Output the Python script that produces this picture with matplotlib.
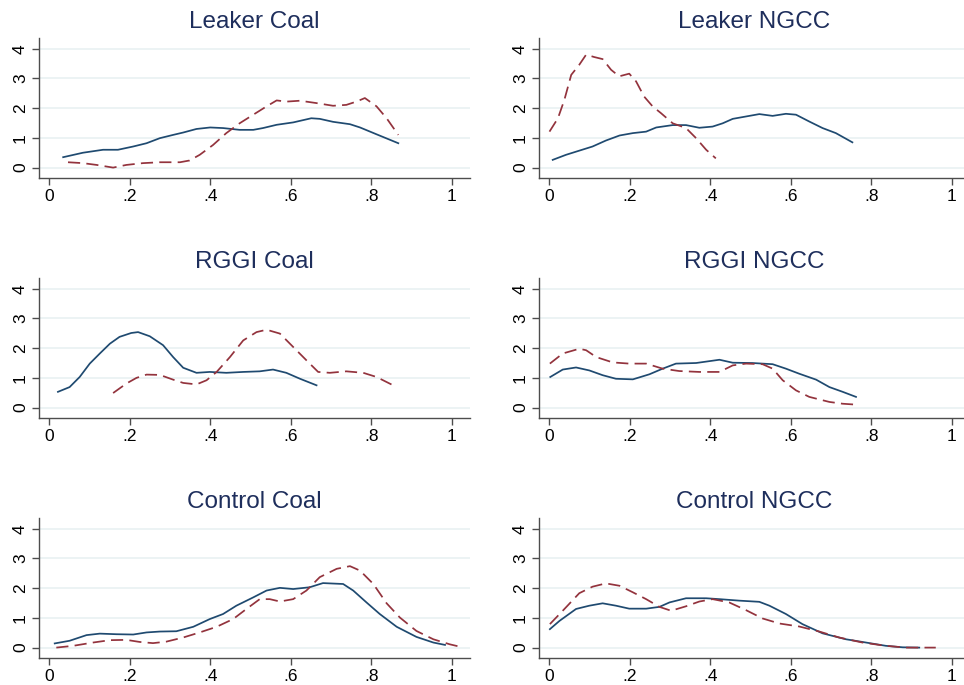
import matplotlib
matplotlib.use("Agg")
import matplotlib.pyplot as plt

plt.rcParams['font.family'] = ['Liberation Sans', 'DejaVu Sans']

titles = ["Leaker Coal", "Leaker NGCC", "RGGI Coal", "RGGI NGCC", "Control Coal", "Control NGCC"]
xticks = [0, 0.2, 0.4, 0.6, 0.8, 1.0]
xticklabels = ["0", ".2", ".4", ".6", ".8", "1"]
yticks = [0, 1, 2, 3, 4]

# Solid (blue) series
leaker_coal_solid_x = [0.035, 0.084, 0.134, 0.171, 0.209, 0.242, 0.275, 0.308, 0.333, 0.366, 0.4, 0.432, 0.473, 0.507, 0.531, 0.565, 0.606, 0.651, 0.672, 0.705, 0.747, 0.772, 0.813, 0.867]
leaker_coal_solid_y = [0.35, 0.5, 0.6, 0.6, 0.71, 0.82, 0.99, 1.1, 1.18, 1.3, 1.35, 1.33, 1.27, 1.27, 1.33, 1.44, 1.52, 1.66, 1.64, 1.54, 1.46, 1.35, 1.12, 0.82]
leaker_coal_dash_x = [0.047, 0.084, 0.118, 0.159, 0.192, 0.233, 0.275, 0.325, 0.349, 0.374, 0.407, 0.44, 0.473, 0.507, 0.54, 0.565, 0.589, 0.623, 0.664, 0.705, 0.738, 0.763, 0.784, 0.813, 0.838, 0.867]
leaker_coal_dash_y = [0.18, 0.15, 0.09, 0.0, 0.09, 0.15, 0.18, 0.18, 0.24, 0.43, 0.76, 1.16, 1.49, 1.78, 2.06, 2.26, 2.22, 2.25, 2.17, 2.08, 2.11, 2.22, 2.34, 2.06, 1.66, 1.1]

leaker_ngcc_solid_x = [0.009, 0.042, 0.075, 0.108, 0.141, 0.175, 0.208, 0.241, 0.266, 0.307, 0.34, 0.373, 0.406, 0.431, 0.456, 0.489, 0.522, 0.555, 0.588, 0.613, 0.646, 0.679, 0.712, 0.753]
leaker_ngcc_solid_y = [0.26, 0.43, 0.57, 0.71, 0.91, 1.08, 1.16, 1.21, 1.35, 1.43, 1.43, 1.34, 1.38, 1.49, 1.64, 1.72, 1.8, 1.74, 1.81, 1.78, 1.55, 1.33, 1.16, 0.85]
leaker_ngcc_dash_x = [0.001, 0.022, 0.038, 0.055, 0.075, 0.092, 0.112, 0.133, 0.154, 0.174, 0.199, 0.216, 0.236, 0.257, 0.278, 0.307, 0.34, 0.365, 0.39, 0.414]
leaker_ngcc_dash_y = [1.21, 1.66, 2.28, 3.12, 3.46, 3.8, 3.72, 3.65, 3.29, 3.07, 3.16, 2.9, 2.39, 2.06, 1.83, 1.49, 1.33, 0.99, 0.6, 0.31]

rggi_coal_solid_x = [0.022, 0.051, 0.076, 0.101, 0.126, 0.151, 0.175, 0.204, 0.221, 0.25, 0.283, 0.308, 0.333, 0.366, 0.399, 0.44, 0.482, 0.523, 0.556, 0.589, 0.623, 0.664]
rggi_coal_solid_y = [0.53, 0.69, 1.03, 1.48, 1.82, 2.15, 2.38, 2.51, 2.54, 2.4, 2.1, 1.7, 1.34, 1.17, 1.2, 1.17, 1.2, 1.22, 1.28, 1.17, 0.97, 0.75]
rggi_coal_dash_x = [0.159, 0.192, 0.217, 0.242, 0.275, 0.308, 0.333, 0.366, 0.391, 0.416, 0.449, 0.482, 0.515, 0.54, 0.573, 0.606, 0.639, 0.668, 0.697, 0.738, 0.78, 0.813, 0.838, 0.863]
rggi_coal_dash_y = [0.49, 0.81, 1.0, 1.11, 1.1, 0.94, 0.83, 0.78, 0.92, 1.2, 1.7, 2.26, 2.54, 2.62, 2.49, 2.04, 1.59, 1.2, 1.17, 1.22, 1.17, 1.03, 0.86, 0.69]

rggi_ngcc_solid_x = [0.003, 0.034, 0.067, 0.1, 0.133, 0.166, 0.208, 0.249, 0.282, 0.315, 0.365, 0.423, 0.456, 0.505, 0.555, 0.588, 0.621, 0.663, 0.696, 0.729, 0.762]
rggi_ngcc_solid_y = [1.03, 1.28, 1.35, 1.25, 1.09, 0.97, 0.95, 1.12, 1.31, 1.48, 1.5, 1.61, 1.51, 1.5, 1.46, 1.31, 1.14, 0.94, 0.69, 0.53, 0.36]
rggi_ngcc_dash_x = [0.002, 0.034, 0.075, 0.092, 0.117, 0.158, 0.199, 0.241, 0.282, 0.323, 0.373, 0.423, 0.456, 0.489, 0.53, 0.555, 0.58, 0.613, 0.646, 0.696, 0.729, 0.762]
rggi_ngcc_dash_y = [1.48, 1.82, 1.98, 1.93, 1.7, 1.52, 1.48, 1.48, 1.31, 1.23, 1.2, 1.2, 1.42, 1.48, 1.46, 1.31, 0.92, 0.58, 0.36, 0.19, 0.13, 0.1]

control_coal_solid_x = [0.014, 0.051, 0.093, 0.126, 0.167, 0.209, 0.242, 0.275, 0.316, 0.358, 0.399, 0.432, 0.465, 0.507, 0.54, 0.573, 0.606, 0.647, 0.68, 0.73, 0.755, 0.788, 0.821, 0.863, 0.912, 0.954, 0.983]
control_coal_solid_y = [0.14, 0.23, 0.42, 0.47, 0.45, 0.44, 0.51, 0.54, 0.55, 0.7, 0.96, 1.13, 1.41, 1.69, 1.92, 2.01, 1.97, 2.03, 2.17, 2.14, 1.92, 1.52, 1.13, 0.7, 0.36, 0.17, 0.09]
control_coal_dash_x = [0.018, 0.06, 0.109, 0.151, 0.192, 0.225, 0.258, 0.291, 0.333, 0.374, 0.416, 0.457, 0.49, 0.523, 0.548, 0.573, 0.606, 0.639, 0.672, 0.714, 0.747, 0.772, 0.805, 0.838, 0.871, 0.912, 0.954, 0.995, 1.02]
control_coal_dash_y = [0.0, 0.06, 0.17, 0.25, 0.26, 0.19, 0.15, 0.2, 0.34, 0.51, 0.7, 0.96, 1.3, 1.63, 1.63, 1.55, 1.63, 1.92, 2.37, 2.65, 2.74, 2.59, 2.14, 1.49, 1.01, 0.56, 0.28, 0.11, 0.03]

control_ngcc_solid_x = [0.002, 0.026, 0.067, 0.1, 0.133, 0.166, 0.199, 0.241, 0.274, 0.299, 0.34, 0.39, 0.423, 0.472, 0.522, 0.547, 0.588, 0.629, 0.679, 0.737, 0.787, 0.836, 0.878, 0.919]
control_ngcc_solid_y = [0.62, 0.9, 1.3, 1.41, 1.49, 1.41, 1.31, 1.31, 1.37, 1.52, 1.66, 1.66, 1.63, 1.58, 1.54, 1.41, 1.13, 0.79, 0.48, 0.28, 0.17, 0.06, 0.01, 0.0]
control_ngcc_dash_x = [0.002, 0.034, 0.075, 0.108, 0.141, 0.175, 0.208, 0.241, 0.274, 0.303, 0.34, 0.373, 0.406, 0.447, 0.489, 0.53, 0.572, 0.621, 0.671, 0.72, 0.778, 0.836, 0.886, 0.96]
control_ngcc_dash_y = [0.79, 1.24, 1.83, 2.05, 2.16, 2.08, 1.86, 1.63, 1.37, 1.24, 1.39, 1.55, 1.63, 1.52, 1.26, 0.98, 0.81, 0.71, 0.54, 0.34, 0.17, 0.06, 0.0, 0.0]

series = [
    (leaker_coal_solid_x, leaker_coal_solid_y, leaker_coal_dash_x, leaker_coal_dash_y),
    (leaker_ngcc_solid_x, leaker_ngcc_solid_y, leaker_ngcc_dash_x, leaker_ngcc_dash_y),
    (rggi_coal_solid_x, rggi_coal_solid_y, rggi_coal_dash_x, rggi_coal_dash_y),
    (rggi_ngcc_solid_x, rggi_ngcc_solid_y, rggi_ngcc_dash_x, rggi_ngcc_dash_y),
    (control_coal_solid_x, control_coal_solid_y, control_coal_dash_x, control_coal_dash_y),
    (control_ngcc_solid_x, control_ngcc_solid_y, control_ngcc_dash_x, control_ngcc_dash_y),
]

W, H = 964, 685
fig = plt.figure(figsize=(W / 100, H / 100), dpi=100)
fig.patch.set_facecolor("white")

lefts = [39, 539]
tops = [38, 278, 518]
aw, ah = 431, 140

navy = "#1f4a70"
title_c = "#1e2e5c"
maroon = "#93333d"
grid_c = "#eaf2f3"
axis_c = "#4d4d4d"

for i, (title, (sx, sy, dx, dy)) in enumerate(zip(titles, series)):
    r, c = divmod(i, 2)
    ax = fig.add_axes([lefts[c] / W, 1 - (tops[r] + ah) / H, aw / W, ah / H])
    ax.set_xlim(-0.025, 1.045)
    ax.set_ylim(-0.35, 4.36)
    for yv in yticks:
        ax.axhline(yv, color=grid_c, lw=1.3, zorder=0)
    ax.plot(sx, sy, color=navy, lw=1.25, zorder=3, solid_joinstyle="round")
    ax.plot(dx, dy, color=maroon, lw=1.25, dashes=(7, 3.6), zorder=3)
    ax.set_xticks(xticks)
    ax.set_xticklabels(xticklabels, fontsize=12.5)
    ax.set_yticks(yticks)
    ax.set_yticklabels([str(v) for v in yticks], fontsize=12.5, rotation=90, va="center")
    for s in ["top", "right"]:
        ax.spines[s].set_visible(False)
    for s in ["left", "bottom"]:
        ax.spines[s].set_color(axis_c)
        ax.spines[s].set_linewidth(1.0)
    ax.tick_params(axis="both", direction="out", length=5, width=1.0, color=axis_c, labelcolor="#000000")
    ax.tick_params(axis="x", pad=3)
    ax.tick_params(axis="y", pad=3)
    ax.set_title(title, fontsize=17.5, color=title_c, pad=7)

fig.savefig("out.png", dpi=100, facecolor="white")
